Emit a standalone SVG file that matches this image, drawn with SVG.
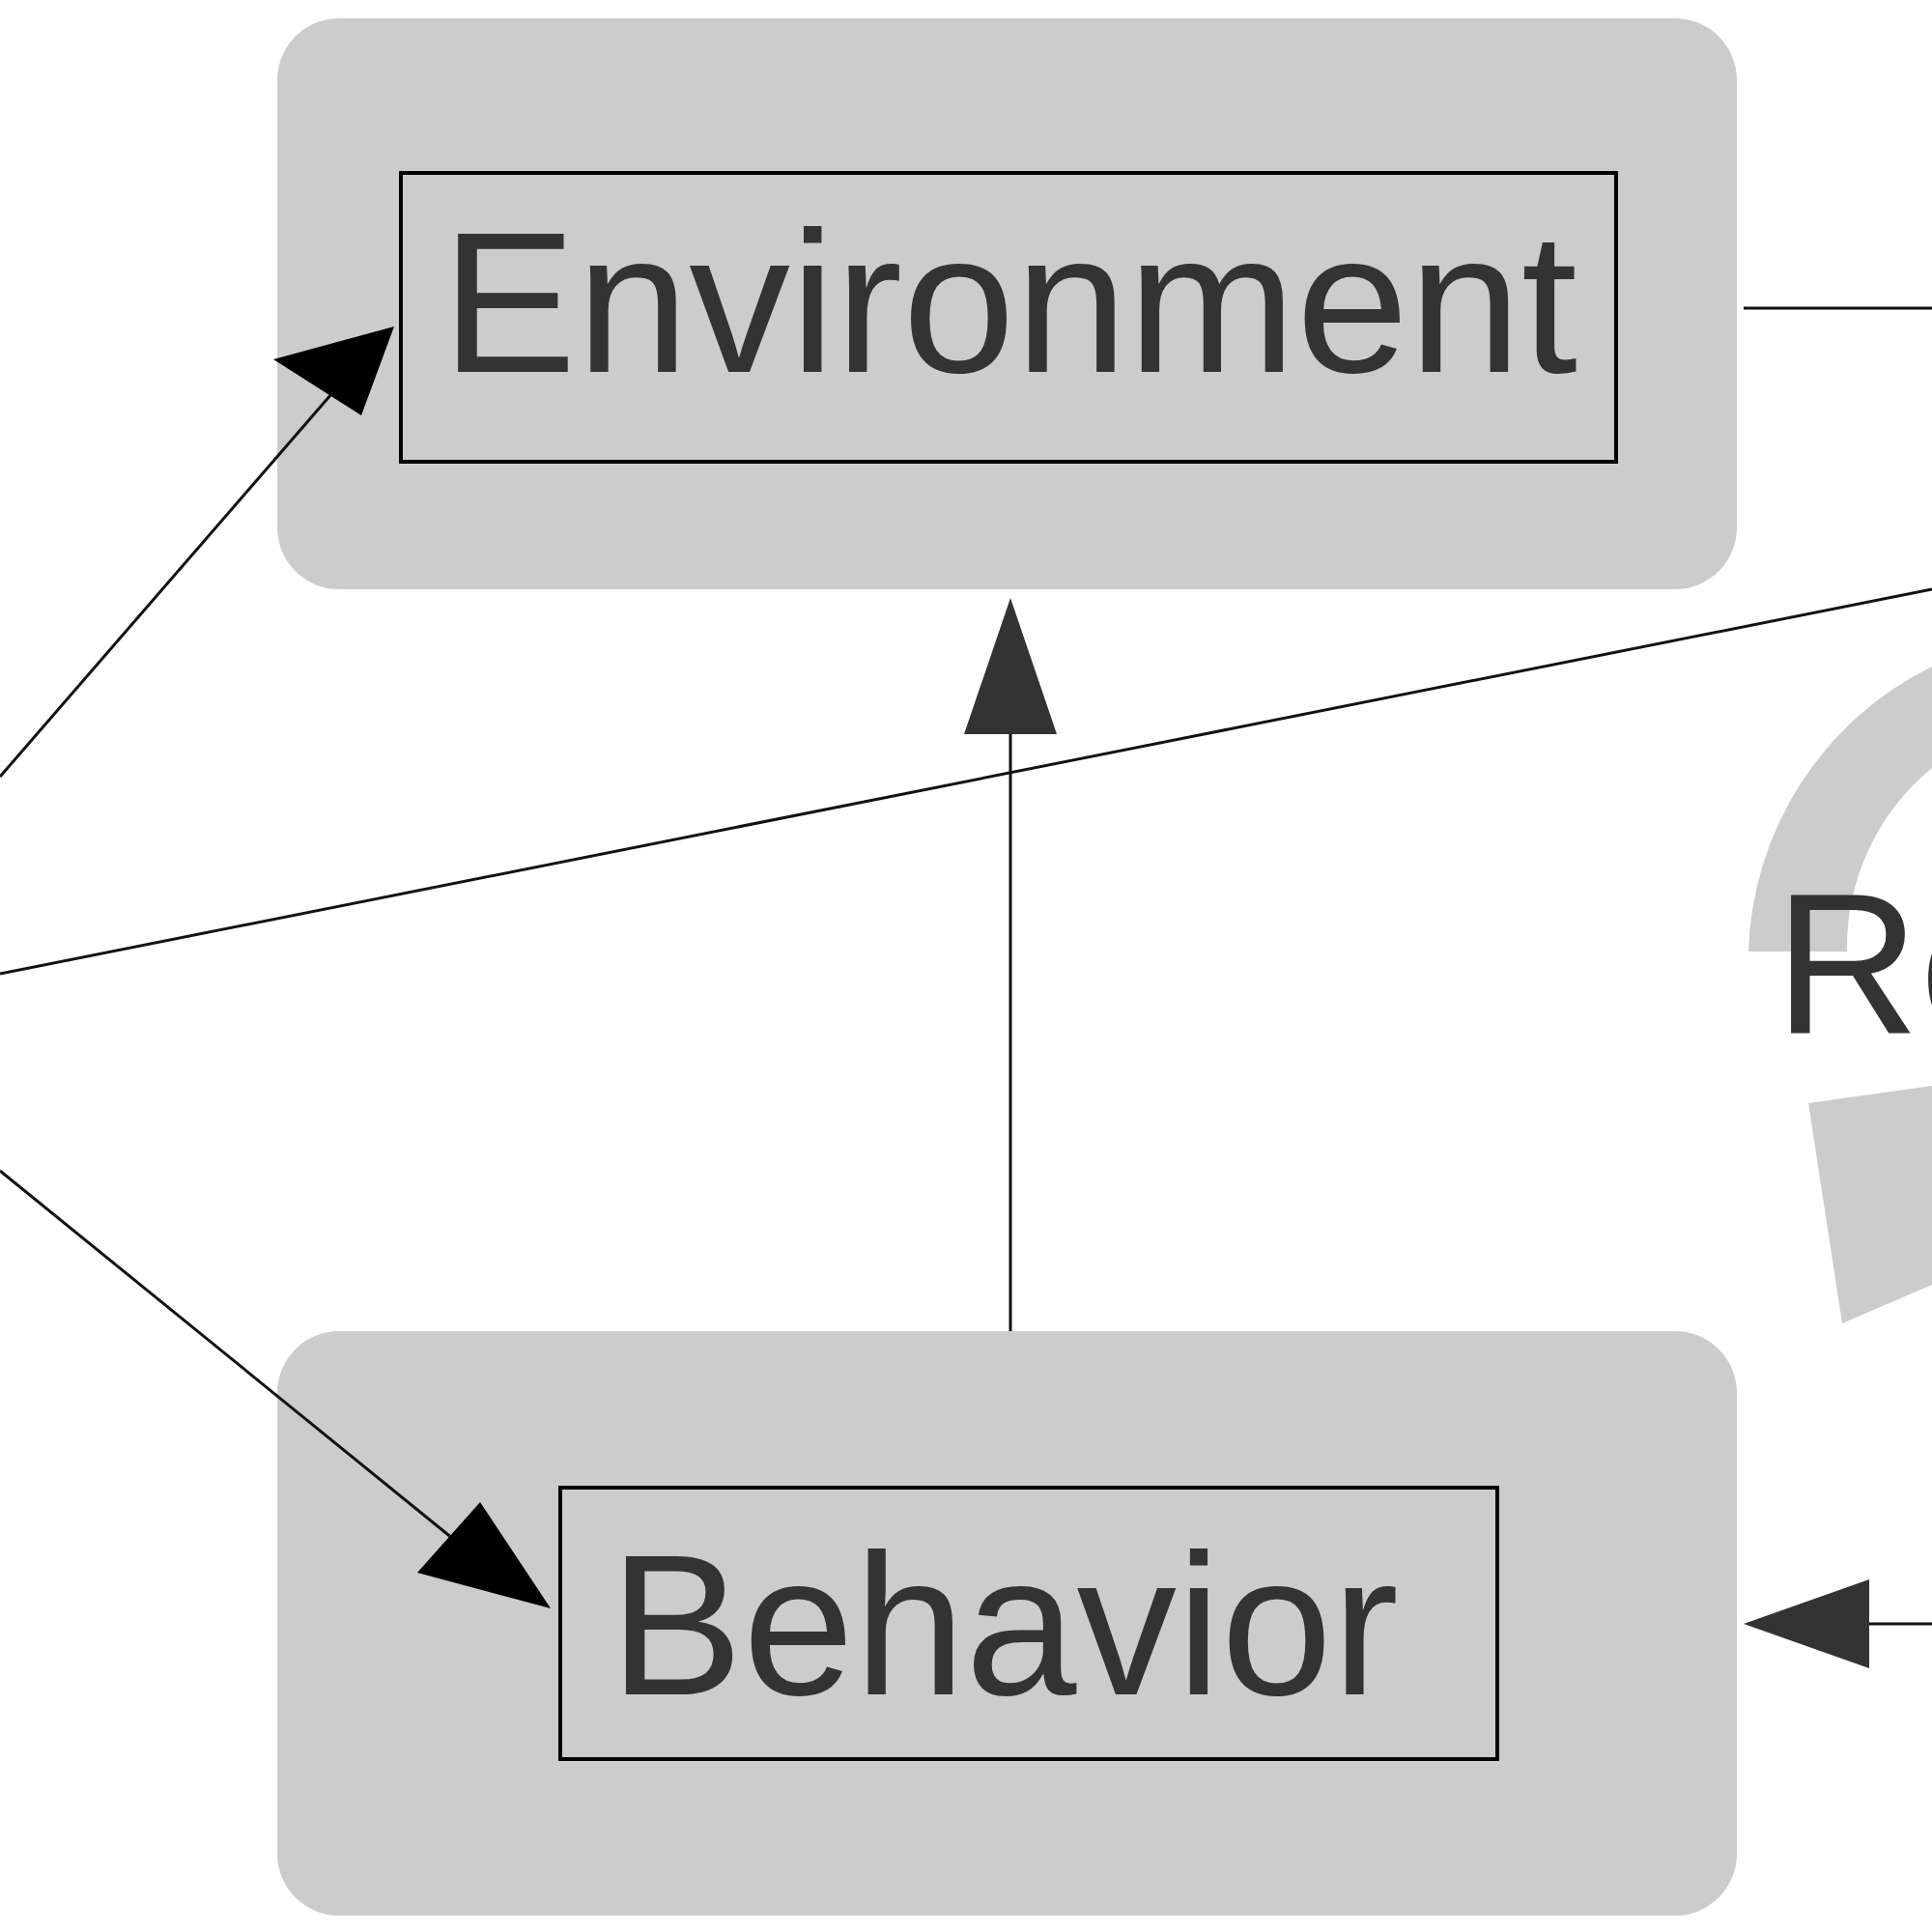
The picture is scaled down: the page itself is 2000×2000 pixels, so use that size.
<svg xmlns="http://www.w3.org/2000/svg" width="2000" height="2000" viewBox="0 0 2000 2000">
<style>
.outer{fill:#cccccc}
.inner{fill:none;stroke:#000;stroke-width:4}
.lbl{font-family:"Liberation Sans",Arial,sans-serif;font-size:208px;fill:#333}
.edge{stroke:#111;stroke-width:3;fill:none}
</style>
<defs>
<marker id="ah" viewBox="0 0 10 10" refX="10" refY="5" markerWidth="10" markerHeight="10" markerUnits="userSpaceOnUse" orient="auto">
<path d="M0,0 L10,5 L0,10 z" fill="#000"/>
</marker>
</defs>
<rect width="2000" height="2000" fill="#fff"/>
<g id="cycle">
<path d="M1810,985 A340,340 0 0 1 2000,690 L2000,795 A240,240 0 0 0 1912,985 Z" fill="#cccccc"/>
<path d="M1872,1142 L2000,1124 L2000,1330 L1907,1370 Z" fill="#cccccc"/>
<text class="lbl" x="1837" y="1069">Re</text>
</g>
<g id="environment">
<rect class="outer" x="287" y="19" width="1511" height="591" rx="64"/>
<rect class="inner" x="415" y="179" width="1258" height="299"/>
<text class="lbl" x="457" y="385" textLength="1176" lengthAdjust="spacingAndGlyphs">Environment</text>
</g>
<g id="behavior">
<rect class="outer" x="287" y="1378" width="1511" height="605" rx="64"/>
<rect class="inner" x="580" y="1540" width="970" height="281"/>
<text class="lbl" x="631" y="1754" textLength="817" lengthAdjust="spacingAndGlyphs">Behavior</text>
</g>
<g id="connectors">
<line class="edge" x1="1046" y1="1378" x2="1046" y2="740"/>
<path d="M1046,619 L1094,760 L998,760 Z" fill="#333"/>
<line class="edge" x1="0" y1="804" x2="350" y2="400"/>
<path d="M408,338 L374,430 L283,372 Z" fill="#000"/>
<line class="edge" x1="0" y1="1212" x2="490" y2="1610"/>
<path d="M570,1665 L432,1628 L497,1555 Z" fill="#000"/>
<line class="edge" x1="0" y1="1008" x2="2000" y2="610"/>
<line class="edge" x1="1805" y1="319" x2="2000" y2="319"/>
<line class="edge" x1="1900" y1="1681" x2="2000" y2="1681"/>
<path d="M1805,1681 L1935,1635 L1935,1727 Z" fill="#333"/>
</g>
</svg>
